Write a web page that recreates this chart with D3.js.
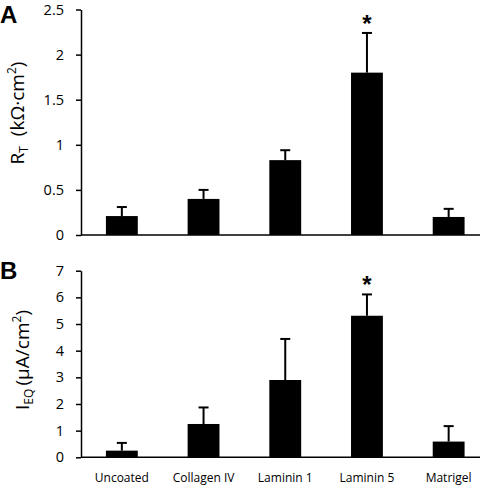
<!DOCTYPE html>
<html><head><meta charset="utf-8">
<script src="https://cdn.jsdelivr.net/npm/d3@7/dist/d3.min.js"></script>
<style>body{margin:0;background:#fff}svg{display:block}</style>
</head><body>
<script>
const categories = ["Uncoated","Collagen IV","Laminin 1","Laminin 5","Matrigel"];
const rtValues = [0.21, 0.40, 0.83, 1.80, 0.20];
const rtErrors = [0.10, 0.10, 0.11, 0.44, 0.09];
const ieqValues = [0.25, 1.25, 2.90, 5.31, 0.59];
const ieqErrors = [0.29, 0.62, 1.54, 0.80, 0.58];
const significant = [false, false, false, true, false];
const rtTicks = [0, 0.5, 1, 1.5, 2, 2.5];
const ieqTicks = [0, 1, 2, 3, 4, 5, 6, 7];

const W = 480, H = 487;
const svg = d3.select("body").append("svg").attr("width", W).attr("height", H);
const font = "'Open Sans', 'Liberation Sans', sans-serif";

const x = d3.scaleBand().domain(categories).range([81, 489.5]).paddingInner(0.61).paddingOuter(0.305);

function panel(opts) {
  const y = d3.scaleLinear().domain([0, opts.max]).range([opts.y0, opts.y1]);
  const g = svg.append("g");
  const ax = g.append("g").attr("transform", "translate(81,0)")
    .call(d3.axisLeft(y).tickValues(opts.ticks).tickSize(5).tickSizeOuter(0).tickFormat(d => String(d)));
  ax.select(".domain").attr("stroke", "#000").attr("stroke-width", 1.5);
  ax.selectAll(".tick line").attr("stroke", "#000").attr("stroke-width", 1.5);
  ax.selectAll(".tick text").attr("font-family", font).attr("font-size", 14.5).attr("fill", "#000").attr("x", -17);
  g.append("line").attr("x1", 81).attr("x2", W).attr("y1", y(0)).attr("y2", y(0))
    .attr("stroke", "#000").attr("stroke-width", 1.5);
  g.selectAll("rect.bar").data(categories).join("rect").attr("class", "bar")
    .attr("x", d => x(d)).attr("width", x.bandwidth())
    .attr("y", (d, i) => y(opts.values[i])).attr("height", (d, i) => y(0) - y(opts.values[i]))
    .attr("fill", "#000");
  categories.forEach((c, i) => {
    const cx = x(c) + x.bandwidth() / 2;
    const top = y(opts.values[i] + opts.errors[i]);
    g.append("line").attr("x1", cx).attr("x2", cx).attr("y1", y(opts.values[i])).attr("y2", top)
      .attr("stroke", "#000").attr("stroke-width", 2);
    g.append("line").attr("x1", cx - 5).attr("x2", cx + 5).attr("y1", top).attr("y2", top)
      .attr("stroke", "#000").attr("stroke-width", 2);
    if (significant[i]) {
      g.append("text").attr("x", cx).attr("y", top - 1).attr("text-anchor", "middle")
        .attr("font-family", "'Liberation Sans', Arial, sans-serif").attr("font-weight", "bold")
        .attr("font-size", 24).text("*");
    }
  });
  const lab = g.append("text").attr("transform", `translate(${opts.labelX},${opts.labelY}) rotate(-90)`)
    .attr("text-anchor", "middle").attr("font-family", font).attr("font-size", 19).attr("fill", "#000");
  opts.label(lab);
  g.append("text").attr("x", 0).attr("y", opts.letterY).attr("font-family", "'Liberation Sans', Arial, sans-serif")
    .attr("font-weight", "bold").attr("font-size", 24).text(opts.letter);
}

panel({
  max: 2.5, y0: 235, y1: 9.5, ticks: rtTicks, values: rtValues, errors: rtErrors,
  labelX: 24, labelY: 113, letter: "A", letterY: 23,
  label: t => {
    t.append("tspan").text("R");
    t.append("tspan").attr("font-size", 12).attr("dy", 4).text("T");
    t.append("tspan").attr("dy", -4).text("\u00a0 (k\u03a9\u00b7cm");
    t.append("tspan").attr("font-size", 12).attr("dy", -8).text("2");
    t.append("tspan").attr("dy", 8).text(")");
  }
});

panel({
  max: 7, y0: 457.3, y1: 270.7, ticks: ieqTicks, values: ieqValues, errors: ieqErrors,
  labelX: 29, labelY: 360, letter: "B", letterY: 279,
  label: t => {
    t.append("tspan").text("I");
    t.append("tspan").attr("font-size", 12).attr("dy", 4).text("EQ");
    t.append("tspan").attr("dy", -4).text("\u2009(\u00b5A/cm");
    t.append("tspan").attr("font-size", 12).attr("dy", -8).text("2");
    t.append("tspan").attr("dy", 8).text(")");
  }
});

svg.append("g").selectAll("text").data(categories).join("text")
  .attr("x", d => x(d) + x.bandwidth() / 2).attr("y", 482)
  .attr("text-anchor", "middle").attr("font-family", font).attr("font-size", 12).attr("fill", "#000")
  .text(d => d);
</script>
</body></html>
